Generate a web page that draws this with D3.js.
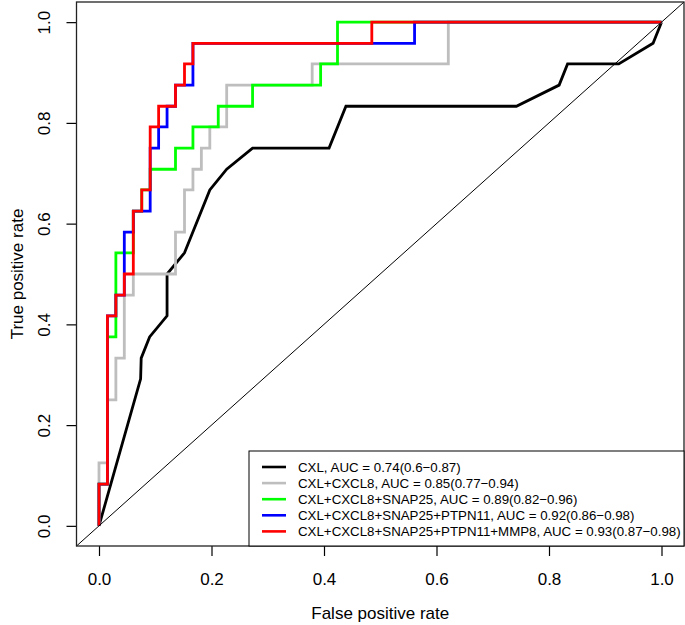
<!DOCTYPE html>
<html>
<head>
<meta charset="utf-8">
<script src="https://cdn.jsdelivr.net/npm/d3@7"></script>
<style>
  body { margin: 0; background: #fff; }
  svg text { font-family: "Liberation Sans", Arial, sans-serif; fill: #000; }
</style>
</head>
<body>
<div id="app"></div>
<script>
// ROC curve vertices (fpr / tpr)
let cxlFpr = [0, 0.074, 0.075, 0.090, 0.121, 0.121, 0.152, 0.197, 0.227, 0.273, 0.409, 0.439, 0.742, 0.818, 0.833, 0.924, 0.985, 1]
let cxlTpr = [0, 0.292, 0.333, 0.375, 0.417, 0.5, 0.542, 0.667, 0.708, 0.75, 0.75, 0.833, 0.833, 0.875, 0.917, 0.917, 0.958, 1]

let cxcl8Fpr = [0, 0, 0.015, 0.015, 0.030, 0.030, 0.045, 0.045, 0.061, 0.061, 0.136, 0.136, 0.152, 0.152, 0.167, 0.167, 0.182, 0.182, 0.197, 0.197, 0.227, 0.227, 0.379, 0.379, 0.621, 0.621, 1]
let cxcl8Tpr = [0, 0.125, 0.125, 0.25, 0.25, 0.333, 0.333, 0.458, 0.458, 0.5, 0.5, 0.583, 0.583, 0.667, 0.667, 0.708, 0.708, 0.75, 0.75, 0.792, 0.792, 0.875, 0.875, 0.917, 0.917, 1, 1]

let snap25Fpr = [0, 0, 0.015, 0.015, 0.030, 0.030, 0.061, 0.061, 0.076, 0.076, 0.091, 0.091, 0.136, 0.136, 0.167, 0.167, 0.212, 0.212, 0.273, 0.273, 0.394, 0.394, 0.424, 0.424, 1]
let snap25Tpr = [0, 0.083, 0.083, 0.375, 0.375, 0.542, 0.542, 0.625, 0.625, 0.667, 0.667, 0.708, 0.708, 0.75, 0.75, 0.792, 0.792, 0.833, 0.833, 0.875, 0.875, 0.917, 0.917, 1, 1]

let ptpn11Fpr = [0, 0, 0.015, 0.015, 0.030, 0.030, 0.045, 0.045, 0.061, 0.061, 0.091, 0.091, 0.106, 0.106, 0.121, 0.121, 0.136, 0.136, 0.167, 0.167, 0.561, 0.561, 1]
let ptpn11Tpr = [0, 0.083, 0.083, 0.417, 0.417, 0.458, 0.458, 0.583, 0.583, 0.625, 0.625, 0.75, 0.75, 0.792, 0.792, 0.833, 0.833, 0.875, 0.875, 0.958, 0.958, 1, 1]

let mmp8Fpr = [0, 0, 0.015, 0.015, 0.030, 0.030, 0.045, 0.045, 0.061, 0.061, 0.076, 0.076, 0.091, 0.091, 0.106, 0.106, 0.136, 0.136, 0.152, 0.152, 0.167, 0.167, 0.485, 0.485, 1]
let mmp8Tpr = [0, 0.083, 0.083, 0.417, 0.417, 0.458, 0.458, 0.5, 0.5, 0.625, 0.625, 0.667, 0.667, 0.792, 0.792, 0.833, 0.833, 0.875, 0.875, 0.917, 0.917, 0.958, 0.958, 1, 1]

let legendLabels = [
  'CXL, AUC = 0.74(0.6\u22120.87)',
  'CXL+CXCL8, AUC = 0.85(0.77\u22120.94)',
  'CXL+CXCL8+SNAP25, AUC = 0.89(0.82\u22120.96)',
  'CXL+CXCL8+SNAP25+PTPN11, AUC = 0.92(0.86\u22120.98)',
  'CXL+CXCL8+SNAP25+PTPN11+MMP8, AUC = 0.93(0.87\u22120.98)'
]
let seriesColors = ['#000000', '#bebebe', '#00ff00', '#0000ff', '#ff0000']
let tickValues = [0, 0.2, 0.4, 0.6, 0.8, 1.0]

let series = [
  [cxlFpr, cxlTpr],
  [cxcl8Fpr, cxcl8Tpr],
  [snap25Fpr, snap25Tpr],
  [ptpn11Fpr, ptpn11Tpr],
  [mmp8Fpr, mmp8Tpr]
].map((s, i) => ({
  color: seriesColors[i],
  label: legendLabels[i],
  pts: s[0].map((f, j) => [f, s[1][j]])
}))

let width = 685
let height = 625
let box = { left: 76.5, right: 684, top: 2, bottom: 546 }

let x = d3.scaleLinear().domain([-0.04, 1.04]).range([box.left, box.right])
let y = d3.scaleLinear().domain([-0.04, 1.04]).range([box.bottom, box.top])

let svg = d3.select('#app').append('svg')
  .attr('width', width)
  .attr('height', height)

let line = d3.line().x(d => x(d[0])).y(d => y(d[1]))

// curves, red ends on top
svg.append('g').selectAll('path')
  .data(series)
  .enter().append('path')
  .attr('d', d => line(d.pts))
  .style('fill', 'none')
  .style('stroke', d => d.color)
  .style('stroke-width', 2.8)
  .style('stroke-linejoin', 'miter')

// reference diagonal, corner to corner
svg.append('path')
  .attr('d', line([[-0.04, -0.04], [1.04, 1.04]]))
  .style('fill', 'none')
  .style('stroke', '#000')
  .style('stroke-width', 1)

// axes
let xAxis = svg.append('g')
  .attr('transform', `translate(0,${box.bottom})`)
  .call(d3.axisBottom(x).tickValues(tickValues).tickFormat(d3.format('.1f')).tickSize(10).tickPadding(0))
xAxis.select('.domain').remove()
xAxis.selectAll('line').style('stroke', '#000').style('stroke-width', 1.2)
xAxis.selectAll('text')
  .attr('y', 39)
  .attr('dy', 0)
  .style('font-size', '17px')

let yAxis = svg.append('g')
  .attr('transform', `translate(${box.left},0)`)
  .call(d3.axisLeft(y).tickValues(tickValues).tickFormat(d3.format('.1f')).tickSize(10))
yAxis.select('.domain').remove()
yAxis.selectAll('line').style('stroke', '#000').style('stroke-width', 1.2)
yAxis.selectAll('text')
  .attr('x', 0)
  .attr('dy', 0)
  .attr('transform', 'translate(-27,0) rotate(-90)')
  .style('text-anchor', 'middle')
  .style('font-size', '17px')

// plot frame
svg.append('rect')
  .attr('x', box.left)
  .attr('y', box.top)
  .attr('width', box.right - box.left)
  .attr('height', box.bottom - box.top)
  .style('fill', 'none')
  .style('stroke', '#222')
  .style('stroke-width', 1.3)

svg.append('text')
  .attr('x', x(0.5))
  .attr('y', 619)
  .style('text-anchor', 'middle')
  .style('font-size', '17px')
  .text('False positive rate')

svg.append('text')
  .attr('transform', `translate(23,${y(0.5)}) rotate(-90)`)
  .style('text-anchor', 'middle')
  .style('font-size', '17px')
  .text('True positive rate')

// legend, bottom right
let legendLeft = 249
let legendTop = 451
let rowH = 16.1
let legend = svg.append('g')
legend.append('rect')
  .attr('x', legendLeft)
  .attr('y', legendTop)
  .attr('width', box.right - legendLeft)
  .attr('height', box.bottom - legendTop)
  .style('fill', '#fff')
  .style('stroke', '#000')
  .style('stroke-width', 1)

let rows = legend.selectAll('.row')
  .data(series)
  .enter().append('g')
  .attr('class', 'row')
  .attr('transform', (d, i) => `translate(${legendLeft},${legendTop + 16 + i * rowH})`)
rows.append('line')
  .attr('x1', 13).attr('x2', 37)
  .attr('y1', 0).attr('y2', 0)
  .style('stroke', d => d.color)
  .style('stroke-width', 2.6)
rows.append('text')
  .attr('x', 49)
  .attr('y', 4.7)
  .style('font-size', '13.3px')
  .text(d => d.label)
</script>
</body>
</html>
